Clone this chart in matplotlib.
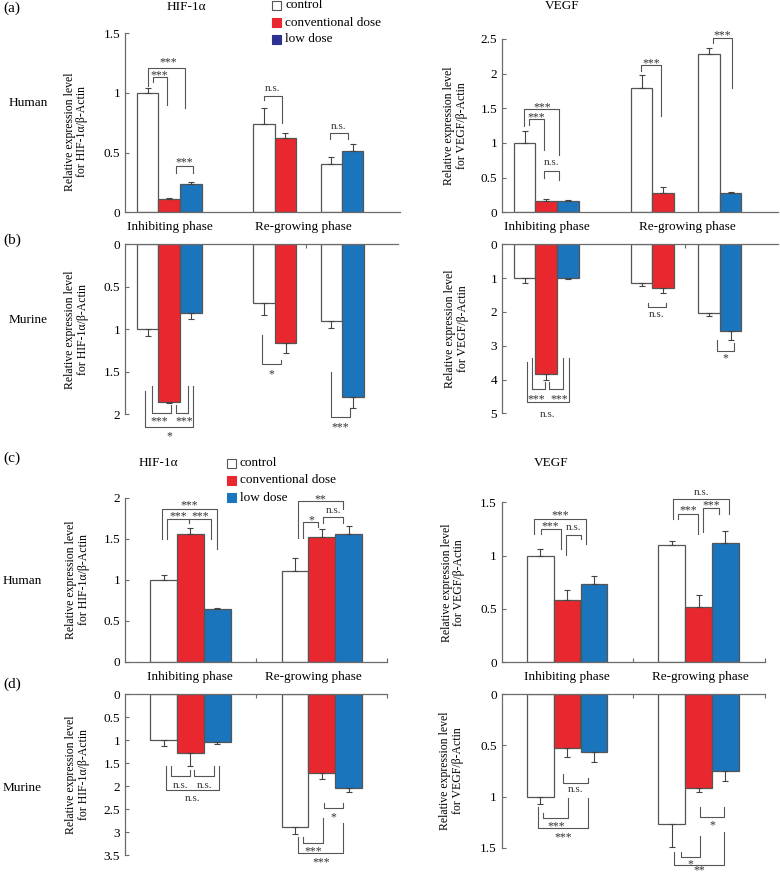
import numpy as np
import matplotlib
matplotlib.use('Agg')
import matplotlib.pyplot as plt
from matplotlib.patches import Rectangle

plt.rcParams['font.family'] = ['Liberation Serif', 'DejaVu Serif']

W, H = 780, 875
RED = '#e8282e'
BLUE = '#1b75bc'
NAVY = '#2e3192'
EDGE = '#555555'
AXC = '#6b6b6b'

# bar order (a)/(b): inhibiting ctrl, conv, low | regrowing ctrl, conv, ctrl, low
AB_COLORS = ['white', RED, BLUE, 'white', RED, 'white', BLUE]
# bar order (c)/(d): inhibiting ctrl, conv, low | regrowing ctrl, conv, low
CD_COLORS = ['white', RED, BLUE, 'white', RED, BLUE]

a_hif = [1.0, 0.112, 0.237, 0.735, 0.62, 0.40, 0.514]
a_hif_err = [0.04, 0.008, 0.013, 0.135, 0.04, 0.06, 0.061]
a_vegf = [1.0, 0.168, 0.159, 1.79, 0.284, 2.29, 0.284]
a_vegf_err = [0.17, 0.022, 0.019, 0.19, 0.086, 0.085, 0.016]

b_hif = [1.0, 1.85, 0.81, 0.686, 1.157, 0.90, 1.80]
b_hif_err = [0.08, 0.02, 0.065, 0.144, 0.123, 0.09, 0.12]
b_vegf = [0.99, 3.85, 0.99, 1.15, 1.30, 2.02, 2.56]
b_vegf_err = [0.16, 0.16, 0.05, 0.07, 0.15, 0.09, 0.27]

c_hif = [1.0, 1.557, 0.638, 1.106, 1.524, 1.557]
c_hif_err = [0.054, 0.069, 0.012, 0.164, 0.096, 0.103]
c_vegf = [1.0, 0.584, 0.731, 1.097, 0.52, 1.12]
c_vegf_err = [0.064, 0.096, 0.081, 0.043, 0.11, 0.11]

d_hif = [1.0, 1.285, 1.046, 2.88, 1.72, 2.03]
d_hif_err = [0.12, 0.275, 0.044, 0.16, 0.12, 0.09]
d_vegf = [1.0, 0.528, 0.567, 1.27, 0.92, 0.75]
d_vegf_err = [0.076, 0.082, 0.093, 0.22, 0.04, 0.10]

legend_labels = ['control', 'conventional dose', 'low dose']
phases = ['Inhibiting phase', 'Re-growing phase']
hif_label = 'Relative expression level\nfor HIF-1\u03b1/\u03b2-Actin'
vegf_label = 'Relative expression level\nfor VEGF/\u03b2-Actin'

# significance brackets: x1, x2, bar level, end1, end2, label, label level[, label x]
A_HIF_SIG = [(1.05, 2.79, 1.207, 1.06, 0.87, '***', 1.27, 2.0),
             (1.32, 1.94, 1.13, 1.087, 0.90, '***', 1.16, 1.58),
             (2.37, 3.18, 0.39, 0.327, 0.327, '***', 0.433),
             (6.47, 7.29, 0.975, 0.94, 0.746, 'n.s.', 1.025),
             (9.53, 10.36, 0.662, 0.612, 0.612, 'n.s.', 0.712)]
A_VEGF_SIG = [(1.04, 2.65, 1.486, 1.245, 0.827, '***', 1.55),
              (1.27, 1.95, 1.34, 1.26, 0.90, '***', 1.40),
              (1.95, 2.65, 0.60, 0.49, 0.466, 'n.s.', 0.70),
              (6.45, 7.38, 2.125, 2.04, 1.39, '***', 2.18),
              (9.78, 10.68, 2.52, 2.44, 1.80, '***', 2.58)]
B_HIF_SIG = [(0.95, 3.18, 2.15, 1.73, 1.67, '*', 2.24),
             (1.24, 2.12, 1.98, 1.67, 1.89, '***', 2.06, 1.6),
             (2.36, 2.95, 1.98, 1.89, 1.67, '***', 2.06, 2.75),
             (6.36, 7.24, 1.41, 1.07, 1.36, '*', 1.50),
             (9.58, 10.47, 2.03, 1.50, 1.93, '***', 2.13)]
B_VEGF_SIG = [(1.15, 3.09, 4.67, 3.47, 3.35, 'n.s.', 5.05),
              (1.38, 2.0, 4.28, 3.35, 4.06, '***', 4.53, 1.6),
              (2.2, 2.82, 4.28, 4.06, 3.35, '***', 4.53, 2.65),
              (6.76, 7.61, 1.86, 1.75, 1.75, 'n.s.', 2.11),
              (9.95, 10.76, 3.15, 2.83, 2.93, '*', 3.32)]
C_HIF_SIG = [(1.40, 3.43, 1.862, 1.496, 1.374, '***', 1.93),
             (1.59, 2.41, 1.736, 1.496, 1.687, '***', 1.80),
             (2.41, 3.21, 1.736, 1.687, 1.496, '***', 1.80),
             (6.47, 8.18, 1.959, 1.504, 1.862, '**', 2.01),
             (6.68, 7.24, 1.707, 1.504, 1.638, '*', 1.75),
             (7.43, 8.18, 1.768, 1.687, 1.687, 'n.s.', 1.83)]
C_VEGF_SIG = [(1.22, 3.14, 1.34, 1.20, 1.11, '***', 1.40),
              (1.46, 2.21, 1.247, 1.20, 1.06, '***', 1.29),
              (2.40, 2.97, 1.194, 1.01, 1.153, 'n.s.', 1.25),
              (6.43, 8.51, 1.528, 1.34, 1.39, 'n.s.', 1.585),
              (6.62, 7.36, 1.39, 1.34, 1.20, '***', 1.44),
              (7.55, 8.14, 1.444, 1.225, 1.39, '***', 1.49)]
D_HIF_SIG = [(1.52, 3.53, 2.08, 1.56, 1.56, 'n.s.', 2.30),
             (1.71, 2.43, 1.79, 1.56, 1.65, 'n.s.', 2.0),
             (2.60, 3.35, 1.79, 1.65, 1.56, 'n.s.', 2.0),
             (7.45, 8.18, 2.48, 2.37, 2.37, '*', 2.63),
             (6.68, 7.43, 3.23, 3.10, 2.70, '***', 3.38),
             (6.49, 8.18, 3.45, 3.10, 2.81, '***', 3.61)]
D_VEGF_SIG = [(2.31, 3.22, 0.864, 0.78, 0.82, 'n.s.', 0.936),
              (1.56, 2.50, 1.213, 1.164, 1.017, '***', 1.268),
              (1.37, 3.22, 1.31, 1.10, 1.017, '***', 1.38),
              (7.43, 8.34, 1.197, 1.10, 1.10, '*', 1.26),
              (6.70, 7.43, 1.59, 1.54, 1.39, '*', 1.64),
              (6.46, 8.34, 1.672, 1.54, 1.343, '**', 1.70)]

POS_AB = [1.05, 2.05, 3.07, 6.47, 7.47, 9.6, 10.6]
POS_CD = [1.45, 2.45, 3.46, 6.37, 7.37, 8.38]


def add_axes_px(fig, x0, x1, ytop, ybot):
    return fig.add_axes([x0 / W, 1 - ybot / H, (x1 - x0) / W, (ybot - ytop) / H])


def ftext(fig, x, y, s, **kw):
    fig.text(x / W, 1 - y / H, s, va='center', **kw)


def draw(ax, pos, vals, errs, colors, ymax, step, inverted, xmax, xticks,
         ylabel, label_x, label_y=0.5):
    ax.bar(pos, vals, width=1.0, color=colors, edgecolor=EDGE, linewidth=0.9, zorder=2)
    ax.errorbar(pos, vals, yerr=[np.zeros(len(errs)), errs], fmt='none',
                ecolor='#444444', elinewidth=0.8, capsize=2.3, capthick=0.8, zorder=3)
    ax.set_xlim(0, xmax)
    ticks = np.arange(0, ymax + step / 2, step)
    ax.set_yticks(ticks)
    ax.set_yticklabels([f'{t:g}' for t in ticks])
    for s in ax.spines.values():
        s.set_visible(False)
        s.set_color(AXC)
        s.set_linewidth(0.9)
    ax.spines['left'].set_visible(True)
    if inverted:
        ax.set_ylim(ymax, 0)
        ax.spines['top'].set_visible(True)
        ax.xaxis.tick_top()
    else:
        ax.set_ylim(0, ymax)
        ax.spines['bottom'].set_visible(True)
    ax.set_xticks(xticks)
    ax.set_xticklabels([])
    ax.tick_params(direction='in', length=3, color=AXC, labelsize=9.5, pad=3.5)
    ax.patch.set_alpha(0)
    ax.set_ylabel(ylabel, fontsize=8.5, va='center', linespacing=1.1)
    ax.yaxis.set_label_coords(label_x, label_y)


def brackets(ax, sigs):
    for sig in sigs:
        x1, x2, yh, y1, y2, lab, yt = sig[:7]
        xt = sig[7] if len(sig) > 7 else (x1 + x2) / 2
        ax.plot([x1, x1, x2, x2], [y1, yh, yh, y2], color='#555555', lw=0.8,
                clip_on=False, zorder=4)
        star = '*' in lab
        ax.annotate(lab, xy=(xt, yt), xytext=(0, -1.5 if star else 0.7),
                    textcoords='offset points', ha='center', va='center',
                    fontsize=8.5 if star else 8, color='#333333',
                    annotation_clip=False)


def legend(fig, x_sq, x_txt, ys, low_color):
    for lab, col, y in zip(legend_labels, ['white', RED, low_color], ys):
        fig.add_artist(Rectangle((x_sq / W, 1 - (y + 4.5) / H), 9 / W, 9 / H,
                                 transform=fig.transFigure, facecolor=col,
                                 edgecolor=EDGE if col == 'white' else col, lw=0.8))
        ftext(fig, x_txt, y, lab, fontsize=9.5, ha='left')


fig = plt.figure(figsize=(7.8, 8.75), dpi=100)

# (a) human
ax = add_axes_px(fig, 125, 400, 33, 212.3)
draw(ax, POS_AB, a_hif, a_hif_err, AB_COLORS, 1.5, 0.5, False, 12.8, [],
     hif_label, -0.178, 0.45)
brackets(ax, A_HIF_SIG)
ax = add_axes_px(fig, 502, 778, 39, 212.3)
draw(ax, POS_AB, a_vegf, a_vegf_err, AB_COLORS, 2.5, 0.5, False, 12.8, [],
     vegf_label, -0.167)
brackets(ax, A_VEGF_SIG)

# (b) murine
ax = add_axes_px(fig, 125, 398, 244.3, 414.3)
draw(ax, POS_AB, b_hif, b_hif_err, AB_COLORS, 2.0, 0.5, True, 12.7, [8.4],
     hif_label, -0.178)
brackets(ax, B_HIF_SIG)
ax = add_axes_px(fig, 502, 778, 244.3, 413.3)
draw(ax, POS_AB, b_vegf, b_vegf_err, AB_COLORS, 5, 1, True, 12.8, [8.5],
     vegf_label, -0.166)
brackets(ax, B_VEGF_SIG)

# (c) human
ax = add_axes_px(fig, 125, 386.7, 497.7, 661.7)
draw(ax, POS_CD, c_hif, c_hif_err, CD_COLORS, 2.0, 0.5, False, 9.8, [4.9, 9.8],
     hif_label, -0.18)
brackets(ax, C_HIF_SIG)
ax = add_axes_px(fig, 501.7, 765, 502.3, 662.3)
draw(ax, POS_CD, c_vegf, c_vegf_err, CD_COLORS, 1.5, 0.5, False, 9.86, [4.9, 9.86],
     vegf_label, -0.185)
brackets(ax, C_VEGF_SIG)

# (d) murine
ax = add_axes_px(fig, 125, 386.7, 694.3, 855)
draw(ax, POS_CD, d_hif, d_hif_err, CD_COLORS, 3.5, 0.5, True, 9.8, [4.9, 9.8],
     hif_label, -0.18)
brackets(ax, D_HIF_SIG)
ax = add_axes_px(fig, 501.7, 765, 694.3, 847.7)
draw(ax, POS_CD, d_vegf, d_vegf_err, CD_COLORS, 1.5, 0.5, True, 9.86, [4.9, 9.86],
     vegf_label, -0.19)
brackets(ax, D_VEGF_SIG)

# panel letters, species, titles
for lab, y in [('(a)', 8), ('(b)', 240), ('(c)', 458), ('(d)', 684)]:
    ftext(fig, 3, y, lab, fontsize=11, ha='left')
ftext(fig, 9, 103, 'Human', fontsize=9.5, ha='left')
ftext(fig, 9, 320, 'Murine', fontsize=9.5, ha='left')
ftext(fig, 3, 581, 'Human', fontsize=9.5, ha='left')
ftext(fig, 3, 788, 'Murine', fontsize=9.5, ha='left')
ftext(fig, 186, 7, 'HIF-1\u03b1', fontsize=9.5, ha='center')
ftext(fig, 562, 6, 'VEGF', fontsize=9.5, ha='center')
ftext(fig, 158, 463, 'HIF-1\u03b1', fontsize=9.5, ha='center')
ftext(fig, 551, 463, 'VEGF', fontsize=9.5, ha='center')

# phase labels
for xs, y in [((170, 303, 547, 687), 227), ((190, 313, 567, 700), 677)]:
    for x, ph in zip(xs, phases * 2):
        ftext(fig, x, y, ph, fontsize=9.5, ha='center')

legend(fig, 272, 285, [5, 22.7, 39.3], NAVY)
legend(fig, 227, 240, [463.3, 480, 497.7], BLUE)

fig.savefig('out.png', dpi=100)
